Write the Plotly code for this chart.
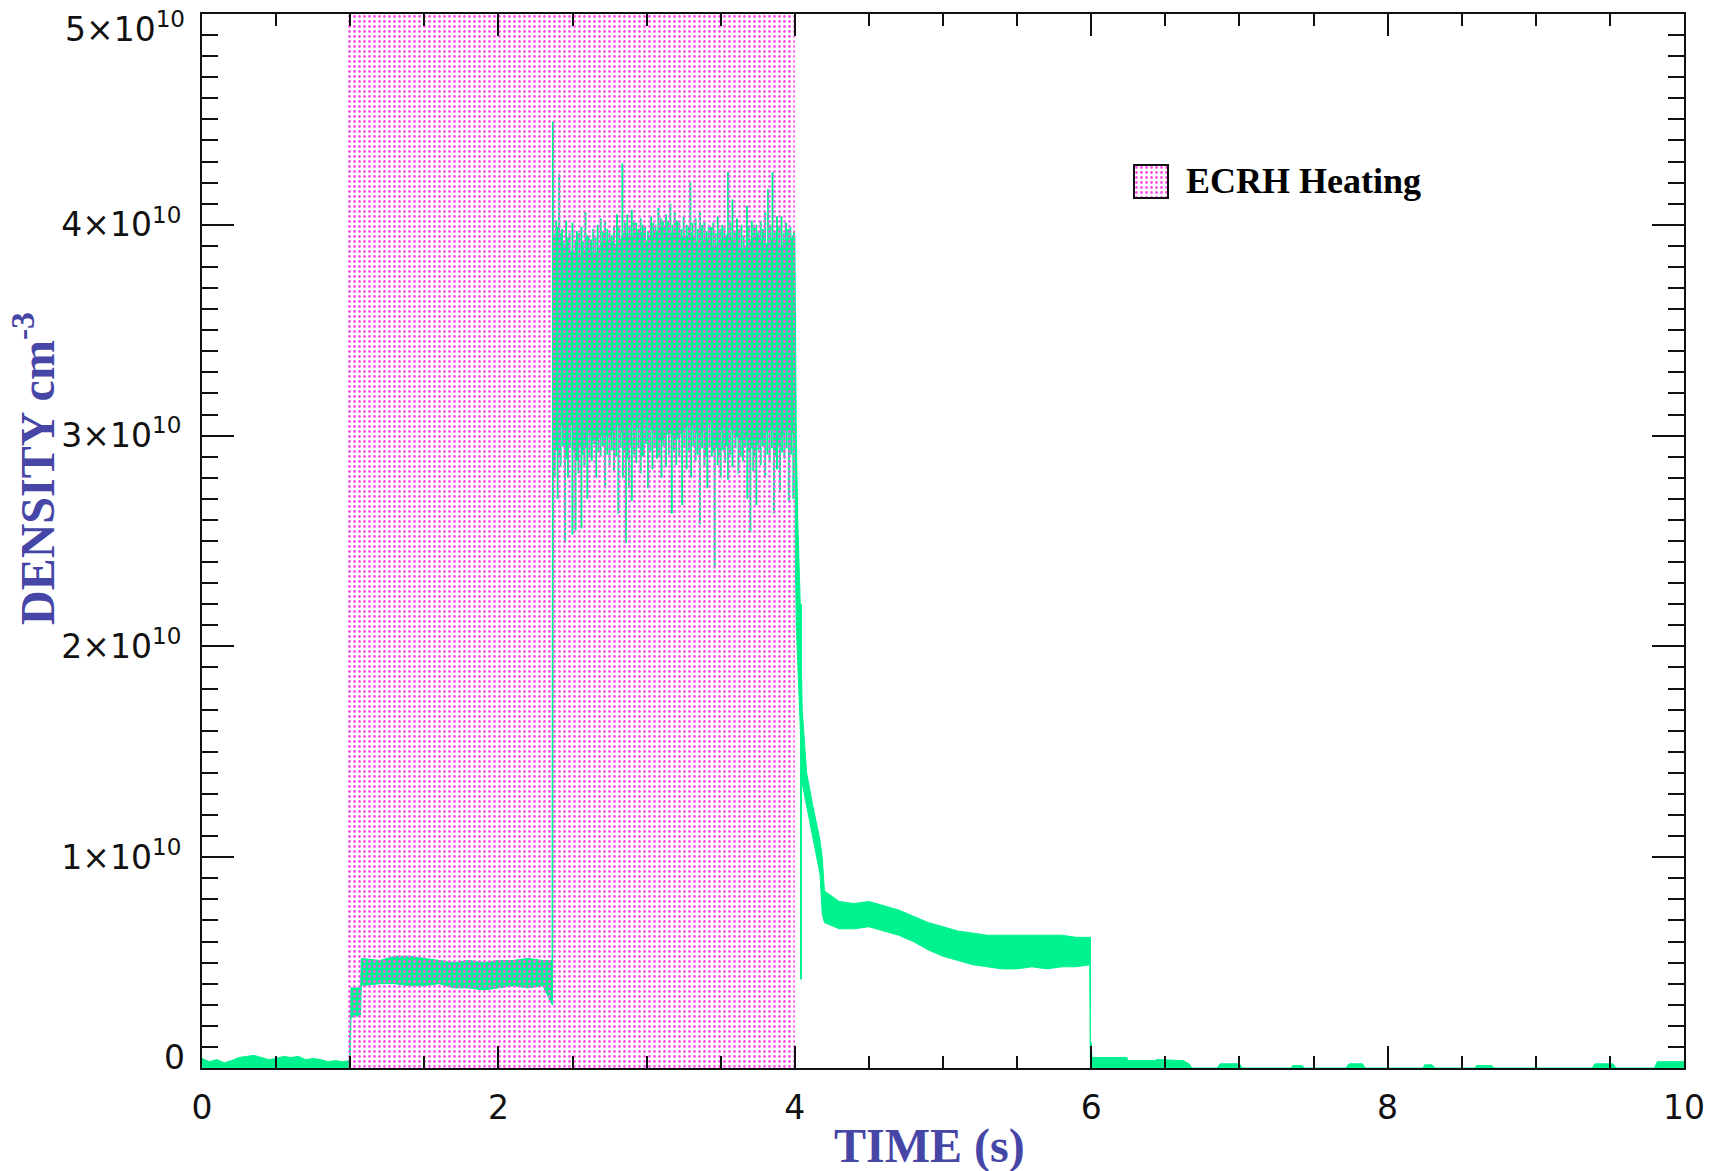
import plotly.graph_objects as go

# ---------------- data (density in units of 1e9 cm^-3, time in s) ----------------
E9 = 1e9

# ECRH heating window
heat_start = 0.975
heat_end = 4.0
heat_top = 5e10

# baseline before the discharge
pre_t = [0.0, 0.05, 0.1, 0.15, 0.2, 0.25, 0.3, 0.35, 0.4, 0.45, 0.5, 0.55, 0.6, 0.65,
         0.7, 0.75, 0.8, 0.85, 0.9, 0.95, 0.995]
pre_v = [0.45, 0.3, 0.4, 0.25, 0.35, 0.5, 0.55, 0.6, 0.5, 0.4, 0.45, 0.55, 0.5, 0.55,
         0.4, 0.45, 0.4, 0.3, 0.35, 0.3, 0.35]

# main signal envelope (upper / lower edge of the dense trace)
band_t = [0.995, 1.0, 1.005, 1.07, 1.075, 1.2, 1.3, 1.4, 1.5, 1.6, 1.7, 1.8, 1.9, 2.0,
          2.1, 2.2, 2.3, 2.362, 2.366, 2.372,
          2.40, 2.45, 2.50, 2.55, 2.60, 2.65, 2.70, 2.75, 2.80, 2.85, 2.90, 2.95, 3.00,
          3.05, 3.10, 3.15, 3.20, 3.25, 3.30, 3.35, 3.40, 3.45, 3.50, 3.55, 3.60, 3.65,
          3.70, 3.75, 3.80, 3.85, 3.90, 3.95,
          4.0, 4.004, 4.01, 4.02, 4.035, 4.05, 4.08, 4.12, 4.17, 4.185, 4.2, 4.3, 4.4,
          4.5, 4.6, 4.7, 4.8, 4.9, 5.0, 5.1, 5.2, 5.3, 5.4, 5.5, 5.6, 5.7, 5.8, 5.9,
          5.99, 5.995]
band_hi = [0.35, 3.7, 3.8, 3.8, 5.2, 5.1, 5.3, 5.3, 5.2, 5.1, 5.0, 5.1, 5.0, 5.1,
           5.1, 5.2, 5.1, 5.1, 40.0, 39.5,
           39.6, 39.0, 38.7, 38.5, 38.9, 38.6, 39.1, 39.3, 39.0, 39.6, 39.4, 39.8, 39.2,
           39.6, 39.9, 39.5, 39.8, 39.3, 39.6, 39.0, 39.4, 38.9, 39.2, 39.6, 39.1, 38.8,
           39.3, 39.5, 39.0, 39.4, 38.9, 39.2,
           39.5, 36.0, 30.0, 26.0, 22.5, 17.0, 14.0, 12.5, 10.8, 10.0, 8.4, 7.9, 7.8,
           7.9, 7.7, 7.5, 7.2, 6.9, 6.7, 6.5, 6.4, 6.3, 6.3, 6.3, 6.3, 6.3, 6.3, 6.2,
           6.2, 6.2]
band_lo = [-0.3, -0.3, 2.4, 2.5, 3.9, 4.0, 4.0, 3.9, 3.9, 4.0, 3.8, 3.8, 3.7, 3.8,
           3.9, 3.8, 3.9, 3.0, 3.0, 30.5,
           30.8, 30.2, 30.6, 29.8, 30.4, 29.6, 30.1, 29.9, 30.5, 30.0, 30.7, 30.3, 30.8,
           30.1, 29.7, 30.2, 29.8, 30.3, 30.6, 30.0, 30.4, 30.8, 30.3, 30.6, 30.0, 29.7,
           30.2, 29.6, 30.1, 30.4, 29.9, 30.3,
           30.0, 24.0, 21.0, 19.0, 16.5, 13.5, 12.6, 11.0, 9.2, 7.3, 6.9, 6.6, 6.6,
           6.7, 6.5, 6.3, 6.0, 5.6, 5.3, 5.1, 4.9, 4.8, 4.7, 4.7, 4.8, 4.7, 4.8, 4.8,
           4.9, -0.3]

# fluctuation spikes during heating (peaks and troughs)
up_t = [2.368, 2.39, 2.41, 2.43, 2.457, 2.48, 2.50, 2.53, 2.56, 2.587, 2.61, 2.64, 2.67,
        2.69, 2.72, 2.75, 2.78, 2.80, 2.837, 2.87, 2.90, 2.93, 2.96, 2.99, 3.03, 3.06,
        3.08, 3.11, 3.13, 3.16, 3.19, 3.22, 3.25, 3.27, 3.295, 3.33, 3.36, 3.39, 3.42,
        3.45, 3.48, 3.51, 3.55, 3.58, 3.61, 3.64, 3.677, 3.71, 3.74, 3.77, 3.80, 3.82,
        3.85, 3.88, 3.91, 3.94, 3.97, 3.995,
        2.40, 2.42, 2.47, 2.52, 2.545, 2.57, 2.60, 2.625, 2.655, 2.705, 2.735, 2.765,
        2.815, 2.855, 2.885, 2.915, 2.945, 2.975, 3.01, 3.045, 3.095, 3.12, 3.145,
        3.175, 3.205, 3.235, 3.285, 3.31, 3.345, 3.375, 3.405, 3.435, 3.465, 3.495,
        3.525, 3.565, 3.595, 3.625, 3.655, 3.69, 3.725, 3.755, 3.785, 3.835, 3.865,
        3.895, 3.925, 3.955, 3.985]
up_v = [44.9, 40.2, 42.4, 39.8, 40.2, 39.6, 40.1, 39.7, 39.9, 40.6, 39.5, 39.8, 40.0,
        40.3, 40.2, 39.6, 39.9, 40.5, 42.9, 40.5, 40.7, 40.1, 40.3, 39.9, 40.4, 40.0,
        40.8, 40.2, 40.5, 41.0, 40.6, 40.1, 40.4, 40.0, 42.0, 40.3, 40.6, 40.2, 40.0,
        40.1, 40.4, 40.0, 42.5, 41.2, 40.3, 40.0, 40.9, 40.2, 40.0, 40.2, 40.6, 41.7,
        42.5, 40.4, 40.4, 40.1, 39.9, 39.7,
        39.9, 39.6, 39.4, 39.3, 39.6, 39.2, 39.5, 39.3, 39.4, 39.7, 39.8, 39.5,
        39.9, 40.1, 39.9, 40.2, 39.8, 40.0, 39.7, 40.1, 40.3, 39.9, 40.2,
        40.0, 40.2, 39.8, 39.9, 40.1, 39.8, 40.0, 39.7, 39.9, 39.6, 39.8,
        39.9, 40.1, 39.7, 39.8, 39.5, 39.9, 40.0, 39.7, 39.8, 40.0, 39.7,
        39.9, 39.6, 39.8, 39.5]
dn_t = [2.38, 2.40, 2.42, 2.45, 2.47, 2.50, 2.52, 2.54, 2.56, 2.58, 2.60, 2.63, 2.66,
        2.69, 2.72, 2.75, 2.78, 2.81, 2.84, 2.86, 2.88, 2.90, 2.93, 2.96, 2.98, 3.01,
        3.04, 3.07, 3.10, 3.13, 3.17, 3.20, 3.24, 3.27, 3.30, 3.33, 3.36, 3.39, 3.41,
        3.44, 3.46, 3.48, 3.50, 3.53, 3.55, 3.58, 3.62, 3.65, 3.68, 3.70, 3.72, 3.74,
        3.77, 3.80, 3.83, 3.86, 3.88, 3.90, 3.93, 3.96, 3.99,
        2.39, 2.41, 2.435, 2.46, 2.485, 2.51, 2.53, 2.55, 2.57, 2.59, 2.615, 2.645,
        2.675, 2.705, 2.735, 2.765, 2.795, 2.825, 2.85, 2.87, 2.895, 2.915, 2.945,
        2.97, 2.995, 3.025, 3.055, 3.085, 3.115, 3.15, 3.185, 3.22, 3.255, 3.285,
        3.315, 3.345, 3.375, 3.40, 3.425, 3.45, 3.47, 3.49, 3.515, 3.54, 3.565, 3.60,
        3.635, 3.665, 3.69, 3.71, 3.73, 3.755, 3.785, 3.815, 3.845, 3.87, 3.89, 3.915,
        3.945, 3.975]
dn_v = [28.0, 27.0, 28.5, 24.9, 28.0, 25.3, 25.5, 28.2, 25.6, 28.6, 27.0, 28.8, 28.0,
        29.0, 27.5, 28.6, 28.3, 26.3, 28.0, 24.9, 27.5, 26.9, 28.7, 28.2, 29.0, 27.5,
        28.4, 28.9, 28.0, 28.5, 26.3, 28.6, 26.7, 28.4, 28.0, 28.8, 25.8, 28.5, 27.5,
        29.0, 23.7, 28.6, 28.0, 28.7, 27.9, 28.5, 28.2, 28.8, 27.0, 25.4, 28.3, 26.7,
        28.6, 28.0, 28.8, 26.3, 28.4, 27.3, 28.9, 26.9, 27.0,
        29.3, 29.0, 29.5, 28.9, 29.4, 29.2, 28.8, 29.5, 29.1, 29.4, 29.0, 29.6,
        29.2, 29.5, 29.1, 29.3, 29.0, 29.4, 29.2, 28.9, 29.5, 29.1, 29.4,
        29.0, 29.6, 29.2, 29.4, 29.0, 29.5, 29.1, 29.3, 29.0, 29.4, 29.2,
        29.5, 29.1, 29.4, 29.0, 29.5, 29.2, 29.4, 29.0, 29.3, 29.5, 29.1, 29.4,
        29.0, 29.5, 29.2, 29.4, 29.0, 29.3, 29.5, 29.1, 29.4, 29.0, 29.5, 29.2,
        29.4, 29.1]
up_base = 36.0
dn_base = 33.0

# single deep dip just after heating switch-off
dip_t = 4.042
dip_top = 22.0
dip_bottom = 4.2

# baseline after the discharge
post_t = [5.995, 6.0, 6.005, 6.24, 6.25, 6.43, 6.44, 6.62, 6.66, 6.68, 6.85, 6.87, 7.0,
          7.02, 7.35, 7.36, 7.42, 7.44, 7.72, 7.74, 7.83, 7.85, 8.24, 8.25, 8.3, 8.32,
          8.59, 8.6, 8.7, 8.72, 9.38, 9.4, 9.52, 9.54, 9.8, 9.82, 10.0]
post_v = [1.0, 1.2, 0.5, 0.5, 0.35, 0.35, 0.4, 0.35, 0.2, 0.0, 0.0, 0.2, 0.2,
          0.0, 0.0, 0.12, 0.12, 0.0, 0.0, 0.2, 0.2, 0.0, 0.0, 0.15, 0.15, 0.0,
          0.0, 0.12, 0.12, 0.0, 0.0, 0.2, 0.2, 0.0, 0.0, 0.3, 0.3]

x_ticks = [0, 2, 4, 6, 8, 10]
x_labels = ["0", "2", "4", "6", "8", "10"]
y_ticks = [0, 1e10, 2e10, 3e10, 4e10, 5e10]
y_labels = ["", "1×10<sup>10</sup>", "2×10<sup>10</sup>", "3×10<sup>10</sup>",
            "4×10<sup>10</sup>", ""]

# ---------------- styling ----------------
GREEN = "#00F28F"
PINK = "#FF4FEA"
BLUE = "#4646A6"
INK = "#111111"
TICKFONT = dict(family="DejaVu Sans", size=33, color=INK)

fig = go.Figure()

sc = lambda vals: [v * E9 for v in vals]

fig.add_trace(go.Scatter(x=pre_t, y=sc(pre_v), mode="lines", fill="tozeroy",
                         line=dict(color=GREEN, width=1), fillcolor=GREEN,
                         showlegend=False, hoverinfo="skip"))

fig.add_trace(go.Scatter(x=band_t + band_t[::-1], y=sc(band_hi) + sc(band_lo[::-1]),
                         mode="lines", fill="toself", fillcolor=GREEN,
                         line=dict(color=GREEN, width=1),
                         showlegend=False, hoverinfo="skip"))

fig.add_trace(go.Scatter(x=post_t, y=sc(post_v), mode="lines", fill="tozeroy",
                         line=dict(color=GREEN, width=1), fillcolor=GREEN,
                         showlegend=False, hoverinfo="skip"))

sx, sy = [], []
for t, v in zip(up_t, up_v):
    sx += [t, t, None]
    sy += [up_base * E9, v * E9, None]
for t, v in zip(dn_t, dn_v):
    sx += [t, t, None]
    sy += [dn_base * E9, v * E9, None]
sx += [dip_t, dip_t, None]
sy += [dip_top * E9, dip_bottom * E9, None]
fig.add_trace(go.Scatter(x=sx, y=sy, mode="lines", line=dict(color=GREEN, width=2),
                         showlegend=False, hoverinfo="skip", connectgaps=False))

pattern = dict(shape=".", fgcolor=PINK, size=5, solidity=0.25, fillmode="replace")

# ECRH heating window (dotted pattern drawn over the data)
fig.add_trace(go.Scatter(x=[heat_start, heat_end, heat_end, heat_start, heat_start],
                         y=[0, 0, heat_top, heat_top, 0], mode="lines", fill="toself",
                         fillcolor="rgba(0,0,0,0)", fillpattern=pattern,
                         line=dict(width=0, color="rgba(0,0,0,0)"),
                         showlegend=False, hoverinfo="skip"))

# legend key on a small inset axis
fig.add_trace(go.Scatter(x=[0, 1, 1, 0, 0], y=[0, 0, 1, 1, 0], xaxis="x2", yaxis="y2",
                         mode="lines", fill="toself", fillcolor="rgba(0,0,0,0)",
                         fillpattern=pattern, line=dict(width=0, color="rgba(0,0,0,0)"),
                         showlegend=False, hoverinfo="skip"))

L, R, T, B = 202, 33, 14, 103
W, H = 1717, 1171
pw, ph = W - L - R, H - T - B
px = lambda x: (x - L) / pw          # pixel -> paper x
py = lambda y: (H - B - y) / ph      # pixel -> paper y

key = dict(x0=1134, x1=1168, y0=165, y1=198)

fig.update_layout(
    width=W, height=H, autosize=False,
    margin=dict(l=L, r=R, t=T, b=B, pad=0),
    paper_bgcolor="white", plot_bgcolor="white",
    showlegend=False,
    xaxis=dict(range=[0, 10], tickmode="array", tickvals=x_ticks, ticktext=x_labels,
               ticks="inside", ticklen=22, tickwidth=2, tickcolor=INK,
               showline=True, linewidth=2, linecolor=INK, mirror="allticks",
               showgrid=False, zeroline=False, tickfont=TICKFONT,
               ticklabelstandoff=9,
               minor=dict(tickmode="linear", tick0=0, dtick=0.5, ticks="inside",
                          ticklen=12, tickwidth=2, tickcolor=INK, showgrid=False)),
    yaxis=dict(range=[0, 5e10], tickmode="array", tickvals=y_ticks, ticktext=y_labels,
               ticks="inside", ticklen=32, tickwidth=2, tickcolor=INK,
               showline=True, linewidth=2, linecolor=INK, mirror="allticks",
               showgrid=False, zeroline=False, tickfont=TICKFONT,
               ticklabelstandoff=12,
               minor=dict(tickmode="linear", tick0=0, dtick=1e9, ticks="inside",
                          ticklen=16, tickwidth=2, tickcolor=INK, showgrid=False)),
    xaxis2=dict(domain=[px(key["x0"]), px(key["x1"])], range=[0, 1], anchor="y2",
                visible=False, fixedrange=True),
    yaxis2=dict(domain=[py(key["y1"]), py(key["y0"])], range=[0, 1], anchor="x2",
                visible=False, fixedrange=True),
    shapes=[dict(type="rect", xref="paper", yref="paper",
                 x0=px(key["x0"]), x1=px(key["x1"]), y0=py(key["y1"]), y1=py(key["y0"]),
                 line=dict(color=INK, width=2), fillcolor="rgba(0,0,0,0)", layer="above")],
    annotations=[
        dict(text="0", xref="paper", yref="y", x=0, y=0, xanchor="right",
             yanchor="middle", xshift=-15, yshift=11, showarrow=False, font=TICKFONT),
        dict(text="5×10<sup>10</sup>", xref="paper", yref="y", x=0, y=5e10,
             xanchor="right", yanchor="middle", xshift=-15, yshift=-13,
             showarrow=False, font=TICKFONT),
        dict(text="<b>TIME (s)</b>", xref="paper", yref="paper", x=px(929), y=py(1146),
             xanchor="center", yanchor="middle", showarrow=False,
             font=dict(family="Liberation Serif", size=48, color=BLUE)),
        dict(text="<b>DENSITY cm<sup>-3</sup></b>", xref="paper", yref="paper",
             x=px(34), y=py(469), xanchor="center", yanchor="middle", textangle=-90,
             showarrow=False, font=dict(family="Liberation Serif", size=48, color=BLUE)),
        dict(text="<b>ECRH Heating</b>", xref="paper", yref="paper", x=px(1184),
             y=py(181), xanchor="left", yanchor="middle", showarrow=False,
             font=dict(family="Liberation Serif", size=36, color="black")),
    ],
)

fig.write_html("out.html")
